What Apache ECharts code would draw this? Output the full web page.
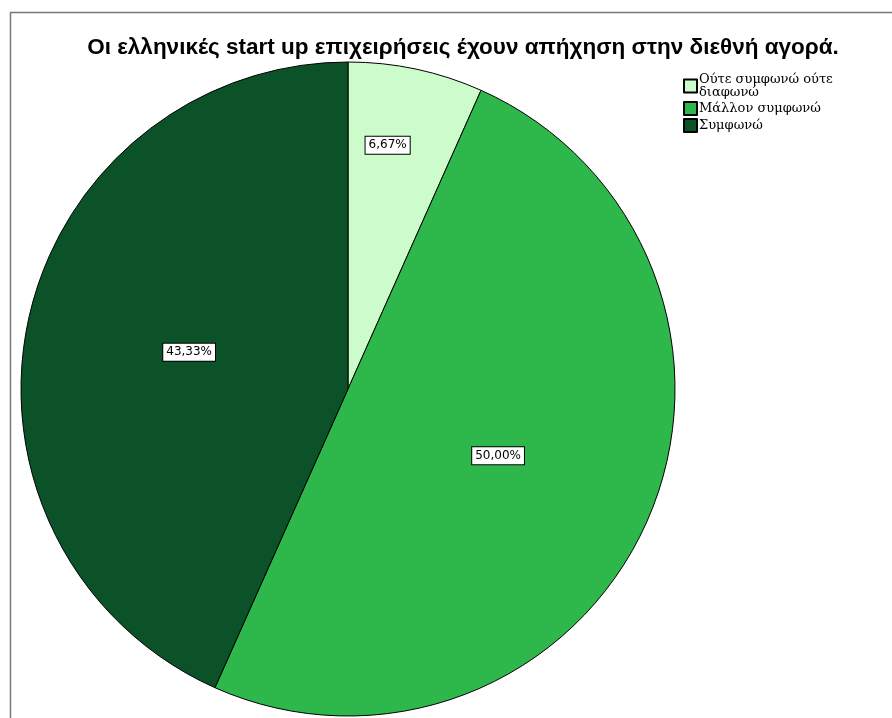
<!DOCTYPE html>
<html><head><meta charset="utf-8">
<script src="https://cdn.jsdelivr.net/npm/echarts@6/dist/echarts.min.js"></script>
<style>html,body{margin:0;padding:0;background:#fff}#c{width:892px;height:718px}</style>
</head><body><div id="c"></div>
<script>
const categories = ['Ούτε συμφωνώ ούτε\nδιαφωνώ', 'Μάλλον συμφωνώ', 'Συμφωνώ'];
const values = [6.67, 50.00, 43.33];
const colors = ['#ccfccc', '#2eb84b', '#0c5229'];

const chart = echarts.init(document.getElementById('c'), null, {renderer: 'canvas'});
chart.setOption({
  animation: false,
  backgroundColor: '#fff',
  graphic: [{
    type: 'rect', shape: {x: 10.5, y: 12.5, width: 900, height: 720},
    style: {fill: 'none', stroke: '#777', lineWidth: 1.5}, silent: true, z: -1
  }],
  title: {
    text: 'Οι ελληνικές start up επιχειρήσεις έχουν απήχηση στην διεθνή αγορά.',
    left: 458, top: 31, textAlign: 'center',
    textStyle: {fontFamily: 'Liberation Sans, Arial, sans-serif', fontWeight: 'bold', fontSize: 22.5, color: '#000'}
  },
  legend: {
    orient: 'vertical', left: 678, top: 68,
    itemWidth: 13, itemHeight: 13, itemGap: 2,
    icon: 'rect',
    textStyle: {fontFamily: 'DejaVu Serif, Liberation Serif, serif', fontSize: 13, lineHeight: 13, color: '#000', padding: [0,0,0,-3]},
    data: categories
  },
  series: [{
    type: 'pie',
    center: [348, 389],
    radius: [0, 327],
    startAngle: 90,
    clockwise: true,
    data: categories.map((c, i) => ({name: c, value: values[i], itemStyle: {color: colors[i]}})),
    itemStyle: {borderColor: '#000', borderWidth: 1},
    label: {
      position: 'inside',
      formatter: p => p.value.toFixed(2).replace('.', ',') + '%',
      fontFamily: 'DejaVu Sans, sans-serif', fontSize: 12, color: '#000',
      backgroundColor: '#fff', borderColor: '#000', borderWidth: 1,
      padding: [3, 3, 2, 3]
    },
    labelLayout: p => p.dataIndex === 0 ? {dx: 5, dy: -81} : (p.dataIndex === 2 ? {dx: 4, dy: -2} : {dx: -2, dy: -1}),
    emphasis: {disabled: true}
  }]
});
</script></body></html>
